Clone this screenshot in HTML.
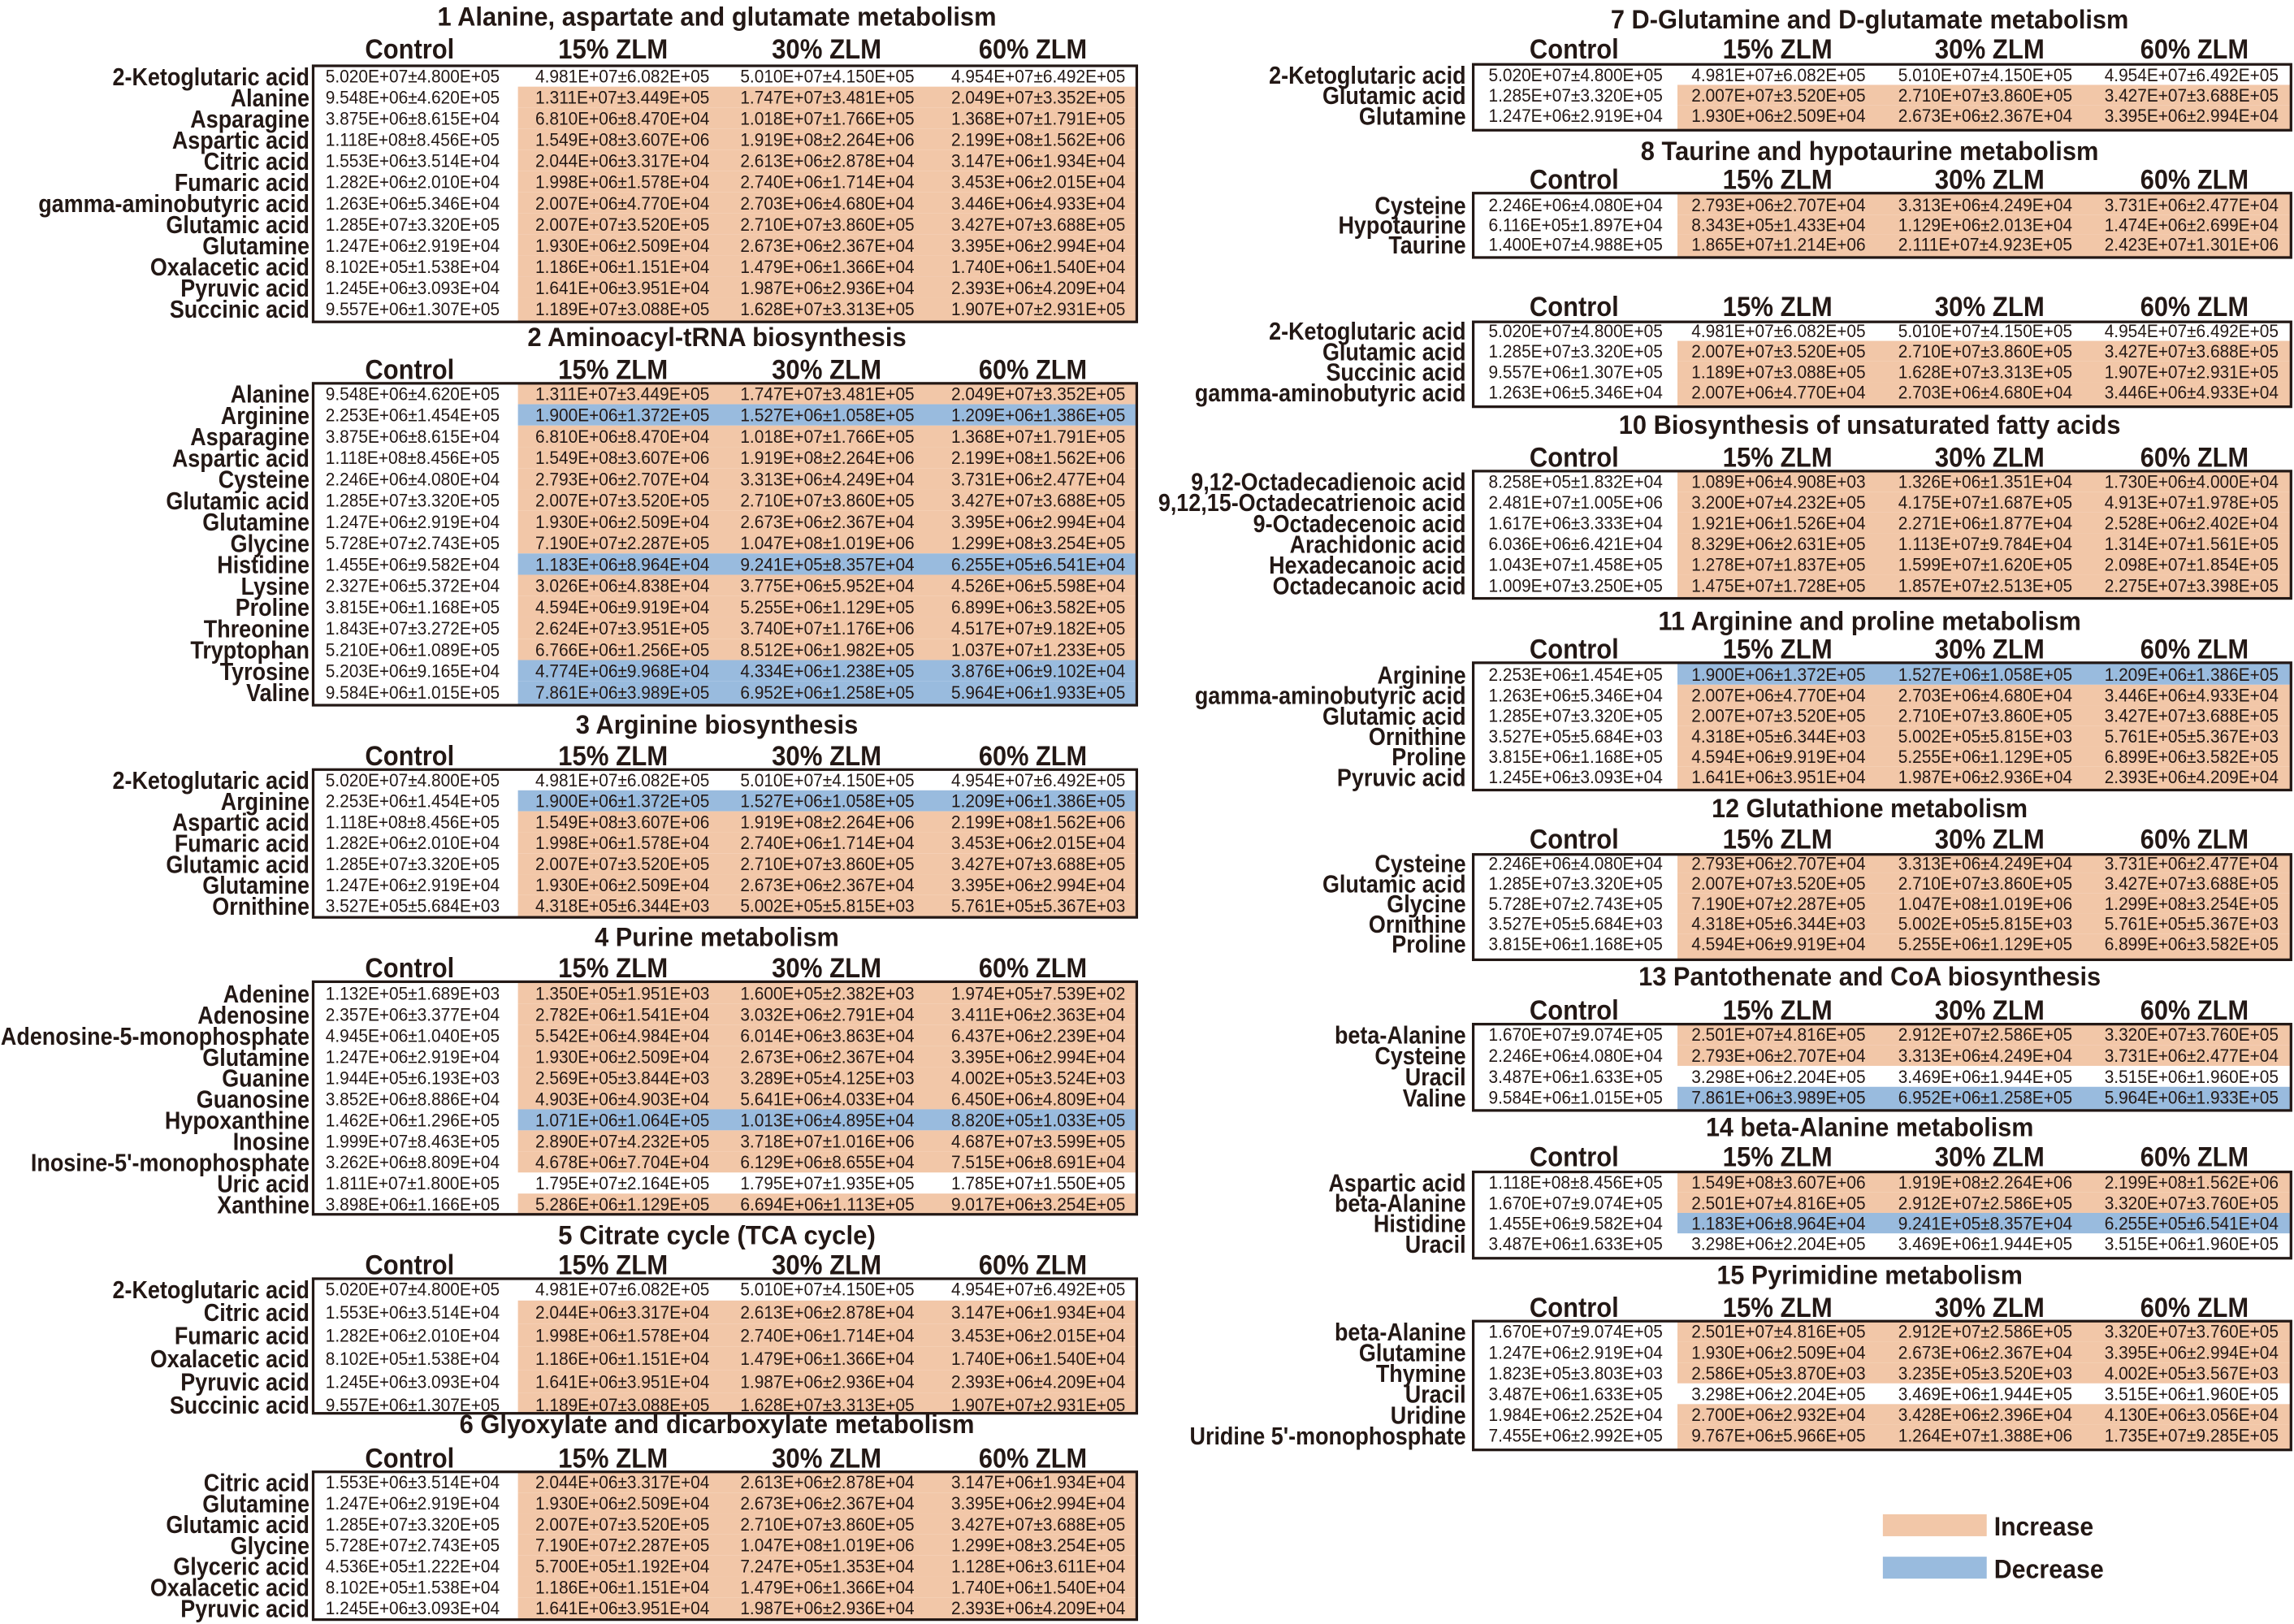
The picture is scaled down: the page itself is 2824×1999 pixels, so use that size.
<!DOCTYPE html>
<html><head><meta charset="utf-8">
<style>
html,body{margin:0;padding:0;background:#fff;}
svg{display:block;}
text{fill:#231815;font-family:"Liberation Sans",Arial,sans-serif;}
.t{font-weight:bold;font-size:18px;}
.h{font-weight:bold;font-size:19px;}
.l{font-weight:bold;font-size:17px;}
.v{font-size:12.4px;}
</style></head>
<body>
<svg id="s" xmlns="http://www.w3.org/2000/svg" width="2824" height="1999" viewBox="0 0 1568 1110"></svg>
<script>
const D={
"2-Ketoglutaric acid":["5.020E+07±4.800E+05","4.981E+07±6.082E+05","5.010E+07±4.150E+05","4.954E+07±6.492E+05"],
"Alanine":["9.548E+06±4.620E+05","1.311E+07±3.449E+05","1.747E+07±3.481E+05","2.049E+07±3.352E+05"],
"Asparagine":["3.875E+06±8.615E+04","6.810E+06±8.470E+04","1.018E+07±1.766E+05","1.368E+07±1.791E+05"],
"Aspartic acid":["1.118E+08±8.456E+05","1.549E+08±3.607E+06","1.919E+08±2.264E+06","2.199E+08±1.562E+06"],
"Citric acid":["1.553E+06±3.514E+04","2.044E+06±3.317E+04","2.613E+06±2.878E+04","3.147E+06±1.934E+04"],
"Fumaric acid":["1.282E+06±2.010E+04","1.998E+06±1.578E+04","2.740E+06±1.714E+04","3.453E+06±2.015E+04"],
"gamma-aminobutyric acid":["1.263E+06±5.346E+04","2.007E+06±4.770E+04","2.703E+06±4.680E+04","3.446E+06±4.933E+04"],
"Glutamic acid":["1.285E+07±3.320E+05","2.007E+07±3.520E+05","2.710E+07±3.860E+05","3.427E+07±3.688E+05"],
"Glutamine":["1.247E+06±2.919E+04","1.930E+06±2.509E+04","2.673E+06±2.367E+04","3.395E+06±2.994E+04"],
"Oxalacetic acid":["8.102E+05±1.538E+04","1.186E+06±1.151E+04","1.479E+06±1.366E+04","1.740E+06±1.540E+04"],
"Pyruvic acid":["1.245E+06±3.093E+04","1.641E+06±3.951E+04","1.987E+06±2.936E+04","2.393E+06±4.209E+04"],
"Succinic acid":["9.557E+06±1.307E+05","1.189E+07±3.088E+05","1.628E+07±3.313E+05","1.907E+07±2.931E+05"],
"Arginine":["2.253E+06±1.454E+05","1.900E+06±1.372E+05","1.527E+06±1.058E+05","1.209E+06±1.386E+05"],
"Cysteine":["2.246E+06±4.080E+04","2.793E+06±2.707E+04","3.313E+06±4.249E+04","3.731E+06±2.477E+04"],
"Glycine":["5.728E+07±2.743E+05","7.190E+07±2.287E+05","1.047E+08±1.019E+06","1.299E+08±3.254E+05"],
"Histidine":["1.455E+06±9.582E+04","1.183E+06±8.964E+04","9.241E+05±8.357E+04","6.255E+05±6.541E+04"],
"Lysine":["2.327E+06±5.372E+04","3.026E+06±4.838E+04","3.775E+06±5.952E+04","4.526E+06±5.598E+04"],
"Proline":["3.815E+06±1.168E+05","4.594E+06±9.919E+04","5.255E+06±1.129E+05","6.899E+06±3.582E+05"],
"Threonine":["1.843E+07±3.272E+05","2.624E+07±3.951E+05","3.740E+07±1.176E+06","4.517E+07±9.182E+05"],
"Tryptophan":["5.210E+06±1.089E+05","6.766E+06±1.256E+05","8.512E+06±1.982E+05","1.037E+07±1.233E+05"],
"Tyrosine":["5.203E+06±9.165E+04","4.774E+06±9.968E+04","4.334E+06±1.238E+05","3.876E+06±9.102E+04"],
"Valine":["9.584E+06±1.015E+05","7.861E+06±3.989E+05","6.952E+06±1.258E+05","5.964E+06±1.933E+05"],
"Ornithine":["3.527E+05±5.684E+03","4.318E+05±6.344E+03","5.002E+05±5.815E+03","5.761E+05±5.367E+03"],
"Adenine":["1.132E+05±1.689E+03","1.350E+05±1.951E+03","1.600E+05±2.382E+03","1.974E+05±7.539E+02"],
"Adenosine":["2.357E+06±3.377E+04","2.782E+06±1.541E+04","3.032E+06±2.791E+04","3.411E+06±2.363E+04"],
"Adenosine-5-monophosphate":["4.945E+06±1.040E+05","5.542E+06±4.984E+04","6.014E+06±3.863E+04","6.437E+06±2.239E+04"],
"Guanine":["1.944E+05±6.193E+03","2.569E+05±3.844E+03","3.289E+05±4.125E+03","4.002E+05±3.524E+03"],
"Guanosine":["3.852E+06±8.886E+04","4.903E+06±4.903E+04","5.641E+06±4.033E+04","6.450E+06±4.809E+04"],
"Hypoxanthine":["1.462E+06±1.296E+05","1.071E+06±1.064E+05","1.013E+06±4.895E+04","8.820E+05±1.033E+05"],
"Inosine":["1.999E+07±8.463E+05","2.890E+07±4.232E+05","3.718E+07±1.016E+06","4.687E+07±3.599E+05"],
"Inosine-5'-monophosphate":["3.262E+06±8.809E+04","4.678E+06±7.704E+04","6.129E+06±8.655E+04","7.515E+06±8.691E+04"],
"Uric acid":["1.811E+07±1.800E+05","1.795E+07±2.164E+05","1.795E+07±1.935E+05","1.785E+07±1.550E+05"],
"Xanthine":["3.898E+06±1.166E+05","5.286E+06±1.129E+05","6.694E+06±1.113E+05","9.017E+06±3.254E+05"],
"Glyceric acid":["4.536E+05±1.222E+04","5.700E+05±1.192E+04","7.247E+05±1.353E+04","1.128E+06±3.611E+04"],
"Hypotaurine":["6.116E+05±1.897E+04","8.343E+05±1.433E+04","1.129E+06±2.013E+04","1.474E+06±2.699E+04"],
"Taurine":["1.400E+07±4.988E+05","1.865E+07±1.214E+06","2.111E+07±4.923E+05","2.423E+07±1.301E+06"],
"9,12-Octadecadienoic acid":["8.258E+05±1.832E+04","1.089E+06±4.908E+03","1.326E+06±1.351E+04","1.730E+06±4.000E+04"],
"9,12,15-Octadecatrienoic acid":["2.481E+07±1.005E+06","3.200E+07±4.232E+05","4.175E+07±1.687E+05","4.913E+07±1.978E+05"],
"9-Octadecenoic acid":["1.617E+06±3.333E+04","1.921E+06±1.526E+04","2.271E+06±1.877E+04","2.528E+06±2.402E+04"],
"Arachidonic acid":["6.036E+06±6.421E+04","8.329E+06±2.631E+05","1.113E+07±9.784E+04","1.314E+07±1.561E+05"],
"Hexadecanoic acid":["1.043E+07±1.458E+05","1.278E+07±1.837E+05","1.599E+07±1.620E+05","2.098E+07±1.854E+05"],
"Octadecanoic acid":["1.009E+07±3.250E+05","1.475E+07±1.728E+05","1.857E+07±2.513E+05","2.275E+07±3.398E+05"],
"beta-Alanine":["1.670E+07±9.074E+05","2.501E+07±4.816E+05","2.912E+07±2.586E+05","3.320E+07±3.760E+05"],
"Uracil":["3.487E+06±1.633E+05","3.298E+06±2.204E+05","3.469E+06±1.944E+05","3.515E+06±1.960E+05"],
"Thymine":["1.823E+05±3.803E+03","2.586E+05±3.870E+03","3.235E+05±3.520E+03","4.002E+05±3.567E+03"],
"Uridine":["1.984E+06±2.252E+04","2.700E+06±2.932E+04","3.428E+06±2.396E+04","4.130E+06±3.056E+04"],
"Uridine 5'-monophosphate":["7.455E+06±2.992E+05","9.767E+06±5.966E+05","1.264E+07±1.388E+06","1.735E+07±9.285E+05"]
};
const BLUE=["Arginine","Histidine","Tyrosine","Valine","Hypoxanthine"],WHITE=["2-Ketoglutaric acid","Uric acid","Uracil"];
const L={b0:214,b1:777,f:354,lab:211.5,c:[282,425.4,565.5,709.7],h:[280,419,565,706],tx:490};
const R={b0:1007,b1:1566,f:1146.6,lab:1002,c:[1077,1215.7,1357,1498],h:[1076,1215,1360,1500],tx:1278};
const T=[
[L,"1 Alanine, aspartate and glutamate metabolism",382,11,33,45,220,52,211,["2-Ketoglutaric acid","Alanine","Asparagine","Aspartic acid","Citric acid","Fumaric acid","gamma-aminobutyric acid","Glutamic acid","Glutamine","Oxalacetic acid","Pyruvic acid","Succinic acid"]],
[L,"2 Aminoacyl-tRNA biosynthesis",259,230,252,262,482,269,473,["Alanine","Arginine","Asparagine","Aspartic acid","Cysteine","Glutamic acid","Glutamine","Glycine","Histidine","Lysine","Proline","Threonine","Tryptophan","Tyrosine","Valine"]],
[L,"3 Arginine biosynthesis",193,495,516,526,627,533,619,["2-Ketoglutaric acid","Arginine","Aspartic acid","Fumaric acid","Glutamic acid","Glutamine","Ornithine"]],
[L,"4 Purine metabolism",167,640,661,671,830,679,823,["Adenine","Adenosine","Adenosine-5-monophosphate","Glutamine","Guanine","Guanosine","Hypoxanthine","Inosine","Inosine-5'-monophosphate","Uric acid","Xanthine"]],
[L,"5 Citrate cycle (TCA cycle)",217,844,864,874,966,881,960,["2-Ketoglutaric acid","Citric acid","Fumaric acid","Oxalacetic acid","Pyruvic acid","Succinic acid"]],
[L,"6 Glyoxylate and dicarboxylate metabolism",352,973,996,1006,1107,1013,1099,["Citric acid","Glutamine","Glutamic acid","Glycine","Glyceric acid","Oxalacetic acid","Pyruvic acid"]],
[R,"7 D-Glutamine and D-glutamate metabolism",354,13,33,44,89,51,79,["2-Ketoglutaric acid","Glutamic acid","Glutamine"]],
[R,"8 Taurine and hypotaurine metabolism",313,103,122,132,176,140,167,["Cysteine","Hypotaurine","Taurine"]],
[R,"",0,0,209,220,278,226,268,["2-Ketoglutaric acid","Glutamic acid","Succinic acid","gamma-aminobutyric acid"]],
[R,"10 Biosynthesis of unsaturated fatty acids",343,290,312,322,409,329,400,["9,12-Octadecadienoic acid","9,12,15-Octadecatrienoic acid","9-Octadecenoic acid","Arachidonic acid","Hexadecanoic acid","Octadecanoic acid"]],
[R,"11 Arginine and proline metabolism",289,424,443,453,540,461,531,["Arginine","gamma-aminobutyric acid","Glutamic acid","Ornithine","Proline","Pyruvic acid"]],
[R,"12 Glutathione metabolism",216,552,573,584,656,590,645,["Cysteine","Glutamic acid","Glycine","Ornithine","Proline"]],
[R,"13 Pantothenate and CoA biosynthesis",316,667,690,700,759,707,750,["beta-Alanine","Cysteine","Uracil","Valine"]],
[R,"14 beta-Alanine metabolism",224,770,790,801,860,808,850,["Aspartic acid","beta-Alanine","Histidine","Uracil"]],
[R,"15 Pyrimidine metabolism",209,871,893,903,991,910,981,["beta-Alanine","Glutamine","Thymine","Uracil","Uridine","Uridine 5'-monophosphate"]]
];
const esc=s=>s.replace(/&/g,"&amp;").replace(/</g,"&lt;");
let o="";
const HD=["Control","15% ZLM","30% ZLM","60% ZLM"],HW=[61,75,75,74];
for(const [s,title,tw,ty,hy,top,bot,r0,r1,rows] of T){
  const n=rows.length,st=n>1?(r1-r0)/(n-1):0;
  const ys=rows.map((_,i)=>r0+i*st);
  rows.forEach((m,i)=>{
    const c=BLUE.includes(m)?"#99BBDE":WHITE.includes(m)?null:"#F2C7A8";
    if(!c)return;
    const a=i==0?top:(ys[i-1]+ys[i])/2, b=i==n-1?bot:(ys[i]+ys[i+1])/2;
    o+=`<rect x="${s.f}" y="${a.toFixed(2)}" width="${(s.b1-s.f).toFixed(2)}" height="${(b-a).toFixed(2)}" fill="${c}"/>`;
  });
  o+=`<rect x="${s.b0}" y="${top}" width="${s.b1-s.b0}" height="${bot-top}" fill="none" stroke="#231815" stroke-width="1.8"/>`;
  if(title)o+=`<text class="t" x="${s.tx}" y="${ty+6.5}" text-anchor="middle" textLength="${tw}" lengthAdjust="spacingAndGlyphs">${esc(title)}</text>`;
  HD.forEach((h,k)=>{o+=`<text class="h" x="${s.h[k]}" y="${hy+7}" text-anchor="middle" textLength="${HW[k]}" lengthAdjust="spacingAndGlyphs">${h}</text>`;});
  rows.forEach((m,i)=>{
    const y=ys[i];
    o+=`<text class="l" text-anchor="end" transform="translate(${s.lab},${(y+6.2).toFixed(2)}) scale(0.88,1)">${esc(m)}</text>`;
    D[m].forEach((v,k)=>{o+=`<text class="v" x="${s.c[k]}" y="${(y+4.4).toFixed(2)}" text-anchor="middle" textLength="119" lengthAdjust="spacingAndGlyphs">${v}</text>`;});
  });
}
o+=`<rect x="1287" y="1035" width="71" height="15" fill="#F2C7A8"/><text class="t" x="1363" y="1049.5" textLength="68" lengthAdjust="spacingAndGlyphs">Increase</text>`;
o+=`<rect x="1287" y="1064" width="71" height="15" fill="#99BBDE"/><text class="t" x="1363" y="1078.5" textLength="75" lengthAdjust="spacingAndGlyphs">Decrease</text>`;
document.getElementById("s").innerHTML=o;
</script>
</body></html>
